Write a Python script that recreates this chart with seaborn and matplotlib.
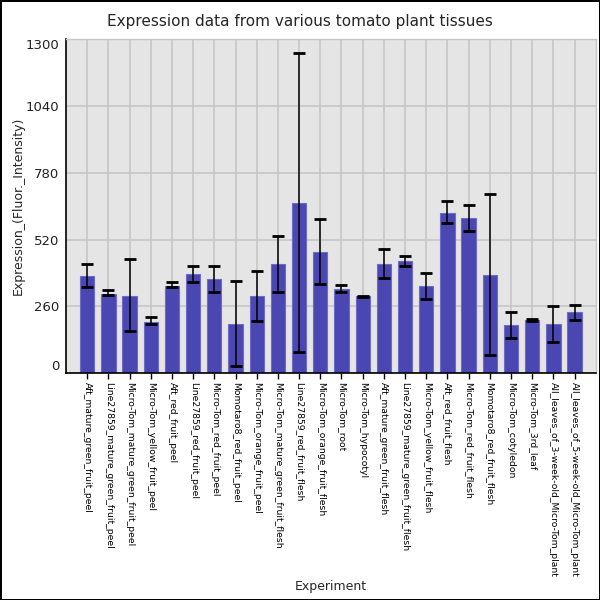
import matplotlib
matplotlib.use("Agg")
import matplotlib.pyplot as plt
import seaborn as sns
import pandas as pd
import numpy as np

categories = [
    "Aft_mature_green_fruit_peel",
    "Line27859_mature_green_fruit_peel",
    "Micro-Tom_mature_green_fruit_peel",
    "Micro-Tom_yellow_fruit_peel",
    "Aft_red_fruit_peel",
    "Line27859_red_fruit_peel",
    "Micro-Tom_red_fruit_peel",
    "Momotaro8_red_fruit_peel",
    "Micro-Tom_orange_fruit_peel",
    "Micro-Tom_mature_green_fruit_flesh",
    "Line27859_red_fruit_flesh",
    "Micro-Tom_orange_fruit_flesh",
    "Micro-Tom_root",
    "Micro-Tom_hypocotyl",
    "Aft_mature_green_fruit_flesh",
    "Line27859_mature_green_fruit_flesh",
    "Micro-Tom_yellow_fruit_flesh",
    "Aft_red_fruit_flesh",
    "Micro-Tom_red_fruit_flesh",
    "Momotaro8_red_fruit_flesh",
    "Micro-Tom_cotyledon",
    "Micro-Tom_3rd_leaf",
    "All_leaves_of_3-week-old_Micro-Tom_plant",
    "All_leaves_of_5-week-old_Micro-Tom_plant",
]
values = [377, 309, 302, 200, 340, 385, 365, 190, 299, 423, 661, 470,
          326, 300, 423, 435, 338, 622, 602, 381, 186, 205, 190, 237]
err_low = [334, 304, 164, 193, 335, 355, 315, 28, 204, 315, 81, 348,
           316, 298, 369, 416, 287, 583, 555, 69, 137, 203, 120, 208]
err_high = [423, 322, 446, 218, 353, 416, 418, 359, 397, 535, 1244, 601,
            342, 301, 482, 457, 391, 669, 656, 699, 238, 209, 260, 267]
yticks = [0, 260, 520, 780, 1040, 1300]

df = pd.DataFrame({"Experiment": categories, "Expression": values})

sns.set_theme(style="whitegrid")
plt.rcParams["font.family"] = ["DejaVu Sans"]

fig = plt.figure(figsize=(6, 6), dpi=100)
fig.patch.set_facecolor("white")
fig.patch.set_edgecolor("black")
fig.patch.set_linewidth(2)
ax = fig.add_axes([0.11, 0.378, 0.883, 0.557])
ax.set_facecolor("#e5e5e5")

sns.barplot(data=df, x="Experiment", y="Expression", order=categories,
            color="#4a47b3", saturation=1, width=0.675, errorbar=None,
            edgecolor="#6e6bc6", linewidth=0.8, ax=ax, zorder=2)

x = np.arange(len(categories))
vals = np.array(values, dtype=float)
yerr = np.vstack([vals - np.array(err_low), np.array(err_high) - vals])
ax.errorbar(x, vals, yerr=yerr, fmt="none", ecolor="black", elinewidth=1.1,
            capsize=4.6, capthick=2, zorder=3)

ax.set_xlim(-1, len(categories))
ax.set_ylim(0, 1300)
ax.set_yticks(yticks)
ax.set_yticklabels([str(t) for t in yticks], fontsize=9.5, color="#222222")
ax.set_xticks(x)
ax.set_xticklabels(categories, rotation=-90, fontsize=6.7, color="black",
                   va="top", ha="center")
ax.grid(True, color="#c6c6c6", linewidth=1.2, zorder=0)
ax.set_axisbelow(True)
ax.tick_params(axis="x", length=4, width=1, color="black", pad=2, bottom=True)
ax.tick_params(axis="y", length=0, pad=5)

for side in ["top", "right"]:
    ax.spines[side].set_color("#c6c6c6")
    ax.spines[side].set_linewidth(1)
for side in ["left", "bottom"]:
    ax.spines[side].set_color("black")
    ax.spines[side].set_linewidth(1.2)

labels = ax.get_yticklabels()
labels[0].set_va("bottom")
labels[-1].set_va("top")

ax.set_xlabel("Experiment", fontsize=9, labelpad=0)
ax.xaxis.set_label_coords(0.5, -0.62)
ax.set_ylabel("Expression_(Fluor._Intensity)", fontsize=9)
ax.yaxis.set_label_coords(-0.078, 0.5)
fig.suptitle("Expression data from various tomato plant tissues",
             fontsize=11, y=0.977)

fig.savefig("out.png", dpi=100)
